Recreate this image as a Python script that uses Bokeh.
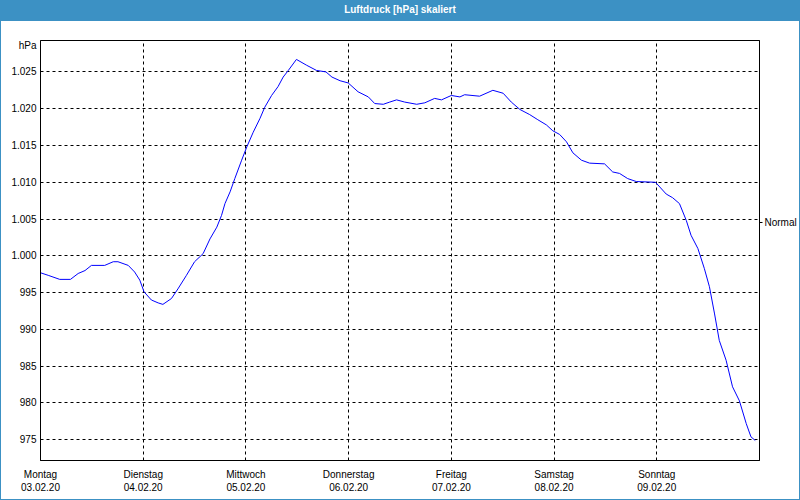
from bokeh.plotting import figure
from bokeh.layouts import column
from bokeh.models import FixedTicker, Range1d, LinearAxis, Div
from bokeh.embed import file_html
from bokeh.resources import INLINE

# ---------------- data ----------------
title_text = "Luftdruck [hPa] skaliert"

hours = [0, 1.8, 4.5, 7.0, 8.8, 10.4, 11.9, 15.0, 17.0, 18.1,
         20.5, 22.0, 23.2, 24.2, 25.9, 27.5, 28.6, 30.6, 32.1, 34.1,
         36.0, 38.0, 39.6, 41.2, 42.3, 43.1, 44.3, 45.4, 47.0, 48.2,
         49.7, 51.3, 52.4, 54.0, 55.5, 56.7, 57.9, 59.8, 62.2, 64.5,
         66.7, 68.1, 70.0, 71.9, 74.2, 76.6, 78.1, 80.1, 81.6, 83.2,
         85.1, 87.9, 89.8, 92.1, 93.7, 96.0, 98.0, 99.1, 102.6, 105.7,
         108.1, 110.0, 112.0, 114.3, 116.2, 118.2, 119.7, 121.3, 122.9, 124.4,
         126.4, 128.3, 131.8, 133.7, 135.3, 137.2, 139.2, 143.7, 146.2, 147.7,
         149.3, 150.9, 152.0, 153.6, 155.1, 156.3, 157.5, 158.6, 160.2, 161.7,
         163.3, 164.9, 166.0, 167.0]

pressure = [997.7, 997.35, 996.8, 996.8, 997.6, 998.0, 998.7, 998.7, 999.2, 999.2,
            998.7, 997.8, 996.7, 995.1, 994.0, 993.6, 993.4, 994.2, 995.5, 997.35,
            999.2, 1000.3, 1002.3, 1003.9, 1005.5, 1007.1, 1008.7, 1010.5, 1013.0, 1014.8,
            1016.8, 1018.7, 1020.2, 1021.8, 1023.0, 1024.3, 1025.2, 1026.7, 1025.9, 1025.2,
            1025.0, 1024.3, 1023.8, 1023.5, 1022.3, 1021.6, 1020.7, 1020.6, 1020.9, 1021.2,
            1020.9, 1020.6, 1020.8, 1021.4, 1021.2, 1021.8, 1021.6, 1021.9, 1021.7, 1022.5,
            1022.1, 1020.9, 1019.9, 1019.2, 1018.5, 1017.8, 1017.0, 1016.5, 1015.5, 1014.0,
            1013.0, 1012.6, 1012.5, 1011.4, 1011.2, 1010.5, 1010.1, 1010.0, 1008.4, 1007.9,
            1007.1, 1004.8, 1002.8, 1001.0, 998.3, 995.8, 992.1, 988.5, 985.8, 982.2,
            980.3, 977.2, 975.4, 974.9]

y_ticks = [975, 980, 985, 990, 995, 1000, 1005, 1010, 1015, 1020, 1025]
y_tick_labels = ["975", "980", "985", "990", "995", "1.000", "1.005", "1.010",
                 "1.015", "1.020", "1.025"]
unit_label = "hPa"
unit_pos = 1028.6

x_ticks = [0, 24, 48, 72, 96, 120, 144]
day_names = ["Montag", "Dienstag", "Mittwoch", "Donnerstag", "Freitag", "Samstag", "Sonntag"]
dates = ["03.02.20", "04.02.20", "05.02.20", "06.02.20", "07.02.20", "08.02.20", "09.02.20"]

normal_value = 1004.5
normal_label = "Normal"

# ---------------- style ----------------
BLUE = "#3c91c4"
FONT = "Liberation Sans"
FS = "10px"

bar = Div(text=title_text, width=798, height=21, margin=(0, 0, 0, 0),
          styles={"background-color": BLUE, "color": "white",
                  "font-family": FONT, "font-weight": "bold", "font-size": "10px",
                  "text-align": "center", "line-height": "20px",
                  "box-sizing": "border-box", "overflow": "hidden",
                  "margin": "0", "padding": "0"})

p = figure(width=798, height=478, toolbar_location=None, output_backend="svg",
           x_range=Range1d(0, 168), y_range=Range1d(972.18, 1029.27),
           min_border_left=39, min_border_right=39, min_border_top=19,
           min_border_bottom=39, margin=(0, 0, 0, 0))
p.background_fill_color = "white"
p.border_fill_color = "white"
p.outline_line_color = "black"
p.outline_line_width = 1

p.line(hours, pressure, line_color="#0000ff", line_width=1)

# y axis
yax = p.yaxis[0]
yax.ticker = FixedTicker(ticks=y_ticks + [unit_pos])
ov = {t: l for t, l in zip(y_ticks, y_tick_labels)}
ov[unit_pos] = unit_label
yax.major_label_overrides = ov
yax.major_tick_out = 0
yax.major_tick_in = 0
yax.minor_tick_out = 0
yax.minor_tick_in = 0
yax.major_label_standoff = 4
yax.axis_line_color = "black"
yax.major_label_text_font = FONT
yax.major_label_text_font_size = FS
yax.major_label_text_color = "black"

# x axis
xax = p.xaxis[0]
xax.ticker = FixedTicker(ticks=x_ticks)
xax.major_label_overrides = {t: f"{d}\n{dt}" for t, d, dt in zip(x_ticks, day_names, dates)}
xax.major_tick_out = 0
xax.major_tick_in = 0
xax.minor_tick_out = 0
xax.minor_tick_in = 0
xax.major_label_standoff = 8
xax.axis_line_color = "black"
xax.major_label_text_font = FONT
xax.major_label_text_font_size = FS
xax.major_label_text_color = "black"

# grids
p.xgrid[0].ticker = FixedTicker(ticks=x_ticks)
p.ygrid[0].ticker = FixedTicker(ticks=y_ticks)
for g in (p.xgrid[0], p.ygrid[0]):
    g.grid_line_color = "black"
    g.grid_line_dash = "3 3"
    g.grid_line_width = 1

# right axis with "Normal"
rax = LinearAxis(ticker=FixedTicker(ticks=[normal_value]),
                 major_label_overrides={normal_value: normal_label})
rax.major_tick_out = 3
rax.major_tick_in = 0
rax.minor_tick_out = 0
rax.minor_tick_in = 0
rax.major_label_standoff = 2
rax.axis_line_color = "black"
rax.major_label_text_font = FONT
rax.major_label_text_font_size = FS
rax.major_label_text_color = "black"
p.add_layout(rax, "right")

layout = column(bar, p, spacing=0,
                styles={"border-left": f"1px solid {BLUE}",
                        "border-right": f"1px solid {BLUE}",
                        "border-bottom": f"1px solid {BLUE}"})

open("out.html", "w").write(file_html(layout, INLINE))
